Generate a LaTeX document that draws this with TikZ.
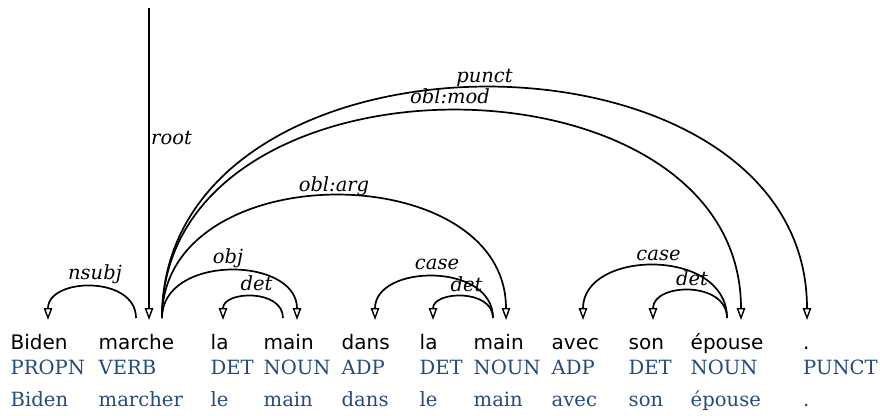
\documentclass[tikz,border=0pt]{standalone}
\usepackage{fontspec}
\usetikzlibrary{arrows.meta}
\newfontfamily\wordfont{DejaVu Sans}
\newfontfamily\tagfont{DejaVu Serif}
\definecolor{tagblue}{RGB}{35,75,125}
\tikzset{
  word/.style={anchor=base west, inner sep=0pt, font=\wordfont\fontsize{20}{24}\selectfont},
  tag/.style={anchor=base west, inner sep=0pt, text=tagblue, font=\tagfont\fontsize{19.6}{24}\selectfont},
  deplbl/.style={anchor=base, inner sep=0pt, font=\tagfont\itshape\fontsize{19.5}{22}\selectfont},
  deparc/.style={line width=1.7pt, -{Triangle[open, length=12pt, width=8.5pt, line width=1.4pt]}},
}
\begin{document}
\begin{tikzpicture}[x=1pt, y=-1pt]
\useasboundingbox (0,0) rectangle (880,415);

% tokens: form, UPOS, lemma
\foreach \n/\x/\f/\p/\l in {
  1/10.5/Biden/PROPN/Biden,
  2/98.5/marche/VERB/marcher,
  3/210.5/la/DET/le,
  4/263.5/main/NOUN/main,
  5/341.5/dans/ADP/dans,
  6/419.5/la/DET/le,
  7/473.5/main/NOUN/main,
  8/551.5/avec/ADP/avec,
  9/628.5/son/DET/son,
  10/690.5/épouse/NOUN/épouse,
  11/803/./PUNCT/.}{
  \node[word] (w\n) at (\x,349) {\f};
  \node[tag]  (p\n) at (\x,374) {\p};
  \node[tag]  (l\n) at (\x,406) {\l};
}

% arc end points above the tokens
\coordinate (biden-in)   at (48,320);
\coordinate (marche-l)   at (136,318);
\coordinate (marche-in)  at (149,320);
\coordinate (marche-r)   at (162,318);
\coordinate (la1-in)     at (223,320);
\coordinate (main1-out)  at (283,318);
\coordinate (main1-in)   at (297,320);
\coordinate (dans-in)    at (375,320);
\coordinate (la2-in)     at (433,320);
\coordinate (main2-out)  at (493,318);
\coordinate (main2-in)   at (506,320);
\coordinate (avec-in)    at (583,320);
\coordinate (son-in)     at (653,320);
\coordinate (epouse-out) at (727,318);
\coordinate (epouse-in)  at (741,320);
\coordinate (punct-in)   at (807,320);
\coordinate (root-top)   at (149,8);

% root
\draw[deparc] (root-top) -- (marche-in);
\node[deplbl, anchor=base west] (root-lbl) at (151,144) {root};

% dependency arcs
\draw[deparc] (marche-l) .. controls +(0,-42.7) and +(0,-42.7) .. (biden-in)
  node[deplbl, pos=0.5, yshift=7pt, xshift=3pt] (nsubj-lbl) {nsubj};
\draw[deparc] (marche-r) .. controls +(0,-64) and +(0,-64) .. (main1-in)
  node[deplbl, pos=0.5, yshift=8pt, xshift=-1.5pt] (obj-lbl) {obj};
\draw[deparc] (main1-out) .. controls +(0,-29.3) and +(0,-29.3) .. (la1-in)
  node[deplbl, pos=0.5, yshift=7pt, xshift=3.5pt] (det1-lbl) {det};
\draw[deparc] (marche-r) .. controls +(0,-164) and +(0,-164) .. (main2-in)
  node[deplbl, pos=0.5, yshift=5pt] (oblarg-lbl) {obl:arg};
\draw[deparc] (main2-out) .. controls +(0,-56) and +(0,-56) .. (dans-in)
  node[deplbl, pos=0.5, yshift=8pt, xshift=3pt] (case1-lbl) {case};
\draw[deparc] (main2-out) .. controls +(0,-29.3) and +(0,-29.3) .. (la2-in)
  node[deplbl, pos=0.5, yshift=6pt, xshift=3.5pt] (det2-lbl) {det};
\draw[deparc] (marche-r) .. controls +(0,-277.3) and +(0,-277.3) .. (epouse-in)
  node[deplbl, pos=0.5, yshift=8pt, xshift=-1.5pt] (oblmod-lbl) {obl:mod};
\draw[deparc] (marche-r) .. controls +(0,-308) and +(0,-308) .. (punct-in)
  node[deplbl, pos=0.5, yshift=6pt] (punct-lbl) {punct};
\draw[deparc] (epouse-out) .. controls +(0,-70.7) and +(0,-70.7) .. (avec-in)
  node[deplbl, pos=0.5, yshift=5pt, xshift=3.5pt] (case2-lbl) {case};
\draw[deparc] (epouse-out) .. controls +(0,-37.3) and +(0,-37.3) .. (son-in)
  node[deplbl, pos=0.5, yshift=6pt, xshift=2pt] (det3-lbl) {det};
\end{tikzpicture}
\end{document}
